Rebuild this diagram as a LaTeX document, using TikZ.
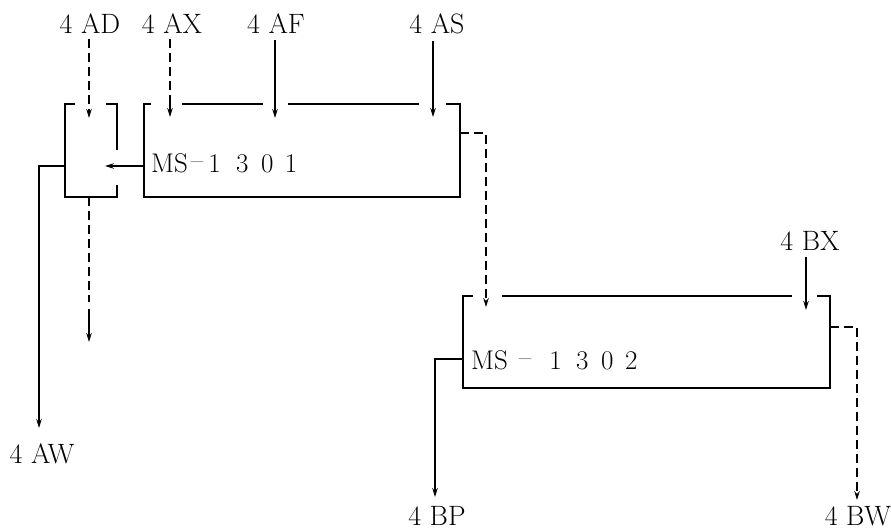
\documentclass[tikz,border=0pt]{standalone}
\usepackage{fontspec}
\usetikzlibrary{arrows.meta}
\newcommand{\msdash}{\raisebox{3pt}{--}}
\begin{document}
\begin{tikzpicture}[x=1pt,y=-1pt,
  lbl/.style={font=\fontsize{28}{28}\selectfont, inner sep=0pt, anchor=base},
  ms/.style={font=\fontsize{27}{27}\selectfont, inner sep=0pt, anchor=base west},
  ln/.style={line width=1.8pt},
  dsh/.style={ln, dash pattern=on 9pt off 5pt},
  arr/.style={-{Stealth[length=9pt,width=5.5pt]}}]
\useasboundingbox (0,0) rectangle (891,530);

% ---------- labels ----------
\node[lbl] (AD) at (90,33) {4 AD};
\node[lbl] (AX) at (172,33) {4 AX};
\node[lbl] (AF) at (276,33) {4 AF};
\node[lbl] (AS) at (437,33) {4 AS};
\node[lbl] (BX) at (810,250) {4 BX};
\node[lbl] (AW) at (42,463) {4 AW};
\node[lbl] (BP) at (437,525) {4 BP};
\node[lbl] (BW) at (858,525) {4 BW};

% ---------- box texts ----------
\node[ms] (T1) at (151,172) {MS\hspace{3pt}\msdash\hspace{5pt}1\hspace{15.5pt}3\hspace{12.5pt}0\hspace{11.5pt}1};
\node[ms] (T2) at (471,369) {MS\hspace{11pt}\msdash\hspace{18pt}1\hspace{14.5pt}3\hspace{12.5pt}0\hspace{11.5pt}2};

% ---------- ports ----------
\coordinate (adIn) at (89,118);
\coordinate (axMid) at (170,100);
\coordinate (axIn) at (170,117);
\coordinate (afIn) at (275,118);
\coordinate (asIn) at (433,117);
\coordinate (b1L) at (144,166);
\coordinate (sIn) at (105,166);
\coordinate (sL) at (65,166);
\coordinate (awC) at (39,166);
\coordinate (awT) at (39,428);
\coordinate (sB) at (89,197);
\coordinate (sB1) at (89,302);
\coordinate (sB2) at (89,309);
\coordinate (sOut) at (89,342);
\coordinate (b1R) at (460,133);
\coordinate (b1RC) at (486,133);
\coordinate (b2In) at (486,307);
\coordinate (bxIn) at (806,310);
\coordinate (b2L) at (463,359);
\coordinate (bpC) at (435,359);
\coordinate (bpT) at (435,497);
\coordinate (b2R) at (830,327);
\coordinate (bwC) at (857,327);
\coordinate (bwT) at (857,500);

% ---------- small box ----------
\draw[ln] (75,104) -- (65,104) -- (65,197) -- (117,197) -- (117,185);
\draw[ln] (106,104) -- (117,104) -- (117,150);

% ---------- MS-1301 box ----------
\draw[ln] (151,104) -- (144,104) -- (144,197) -- (460,197) -- (460,104) -- (446,104);
\draw[ln] (182,104) -- (263,104);
\draw[ln] (288,104) -- (419,104);

% ---------- MS-1302 box ----------
\draw[ln] (473,296) -- (463,296) -- (463,388) -- (830,388) -- (830,296) -- (817,296);
\draw[ln] (502,296) -- (792,296);

% ---------- connectors ----------
\draw[dsh,arr] (adIn |- AD.south) ++(0,6) -- (adIn);
\draw[dsh] (axIn |- AX.south) ++(0,6) -- (axMid);
\draw[ln,arr] (axMid) -- (axIn);
\draw[ln,arr] (afIn |- AF.south) ++(0,7) -- (afIn);
\draw[ln,arr] (asIn |- AS.south) ++(0,7) -- (asIn);
\draw[ln,arr] (b1L) -- (sIn);
\draw[ln,arr] (sL) -- (awC) -- (awT);
\draw[dsh] (sB) -- (sB1);
\draw[ln,arr] (sB2) -- (sOut);
\draw[dsh,arr] (b1R) -- (b1RC) -- (b2In);
\draw[ln,arr] (bxIn |- BX.south) ++(0,7) -- (bxIn);
\draw[ln,arr] (b2L) -- (bpC) -- (bpT);
\draw[dsh,arr] (b2R) -- (bwC) -- (bwT);
\end{tikzpicture}
\end{document}
